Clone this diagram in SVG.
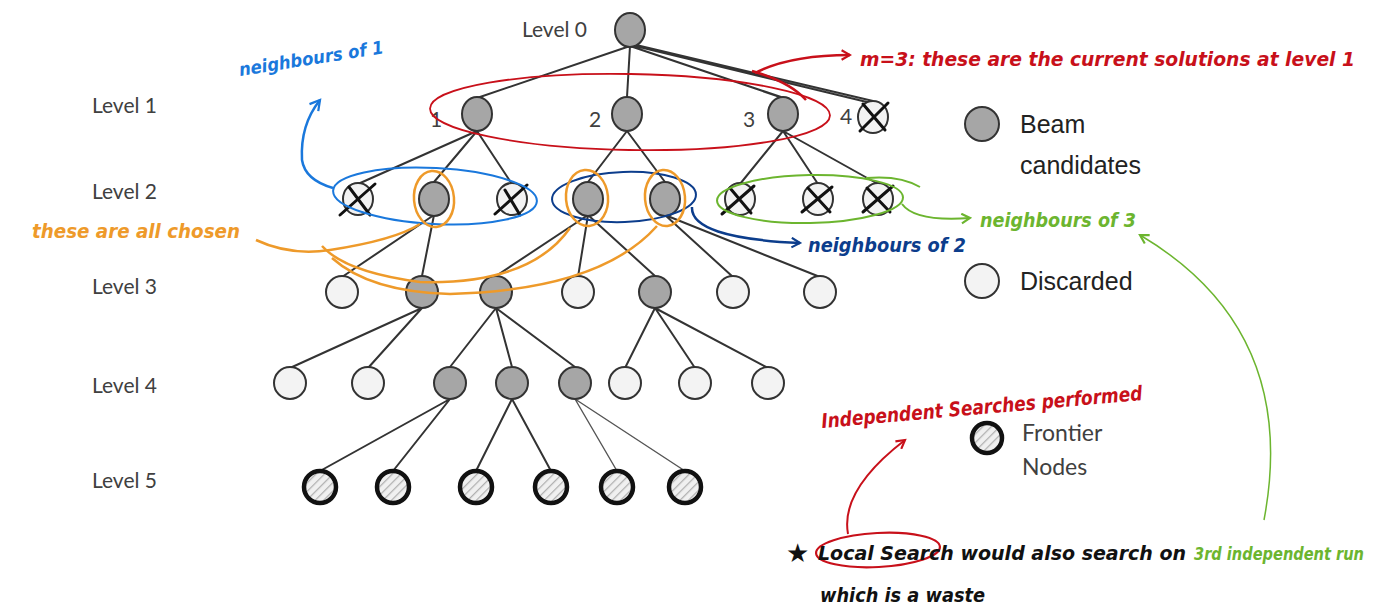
<svg xmlns="http://www.w3.org/2000/svg" width="1377" height="612" viewBox="0 0 1377 612">
<style>
.lvl{font-family:Lato,"Open Sans",sans-serif;font-size:21px;fill:#404040}
.num{font-family:Lato,"Open Sans",sans-serif;font-size:21px;fill:#404040}
.leg{font-family:"Liberation Sans",Arial,sans-serif;font-size:25px;fill:#222}
.leg2{font-family:Lato,"Open Sans",sans-serif;font-size:23px;fill:#404040}
.edge{stroke:#333;stroke-width:2;fill:none}
.beam{fill:#a6a6a6;stroke:#333;stroke-width:2}
.disc{fill:#f3f3f3;stroke:#333;stroke-width:2}
.front{fill:url(#hatch);stroke:#111;stroke-width:4.5}
.x{stroke:#111;stroke-width:3;stroke-linecap:round;fill:none}
.hw{font-family:"DejaVu Sans Condensed","DejaVu Sans",sans-serif;font-weight:bold;font-style:italic}
.red{fill:#c8101a}.blue{fill:#1a78dc}.dblue{fill:#0c3d8c}.green{fill:#6cb52f}.orange{fill:#ee9a2a}.black{fill:#111}
</style>
<defs>
<pattern id="hatch" patternUnits="userSpaceOnUse" width="6" height="6" patternTransform="rotate(45)">
<rect width="6" height="6" fill="#f0f0f0"/>
<line x1="0" y1="0" x2="0" y2="6" stroke="#b0b0b0" stroke-width="2.5"/>
</pattern>
<marker id="arR" viewBox="0 0 10 10" refX="8" refY="5" markerWidth="12" markerHeight="12" orient="auto" markerUnits="userSpaceOnUse">
<path d="M1 1 L8 5 L1 9" fill="none" stroke="#c8101a" stroke-width="1.8"/>
</marker>
<marker id="arB" viewBox="0 0 10 10" refX="8" refY="5" markerWidth="14" markerHeight="14" orient="auto" markerUnits="userSpaceOnUse">
<path d="M1 1 L8 5 L1 9" fill="none" stroke="#1a78dc" stroke-width="1.6"/>
</marker>
<marker id="arD" viewBox="0 0 10 10" refX="8" refY="5" markerWidth="12" markerHeight="12" orient="auto" markerUnits="userSpaceOnUse">
<path d="M1 1 L8 5 L1 9" fill="none" stroke="#0c3d8c" stroke-width="1.8"/>
</marker>
<marker id="arG" viewBox="0 0 10 10" refX="8" refY="5" markerWidth="12" markerHeight="12" orient="auto" markerUnits="userSpaceOnUse">
<path d="M1 1 L8 5 L1 9" fill="none" stroke="#6cb52f" stroke-width="1.8"/>
</marker>
</defs>
<rect width="1377" height="612" fill="#fff"/>

<g id="labels">
<text class="lvl" x="522" y="37">Level 0</text>
<text class="lvl" x="92" y="113">Level 1</text>
<text class="lvl" x="92" y="199">Level 2</text>
<text class="lvl" x="92" y="294">Level 3</text>
<text class="lvl" x="92" y="393">Level 4</text>
<text class="lvl" x="92" y="488">Level 5</text>
<text class="num" x="430" y="127">1</text>
<text class="num" x="589" y="127">2</text>
<text class="num" x="743" y="127">3</text>
<text class="num" x="840" y="124">4</text>
</g>

<g id="connectors">
<path class="edge" d="M630 46 L477 98 M630 46 L627 97 M630 46 L783 98 M632 44 L873 101 M633 47 L781 97 M631 45 L871 103"/>
<path class="edge" d="M477 131 L358 184 M477 131 L434 182 M477 131 L512 184 M627 131 L588 182 M627 131 L665 182 M783 131 L740 184 M783 131 L818 184 M783 131 L878 184"/>
<path class="edge" d="M434 215 L342 277 M434 215 L422 276 M588 215 L496 276 M588 215 L578 277 M588 215 L655 276 M665 215 L733 277 M665 215 L820 277"/>
<path class="edge" d="M422 308 L290 368 M422 308 L368 368 M496 308 L450 367 M496 308 L512 367 M496 308 L575 367 M655 308 L625 368 M655 308 L695 368 M655 308 L768 368"/>
<path class="edge" d="M450 399 L320 471 M450 399 L393 471 M512 399 L476 471 M512 399 L551 471"/>
<path class="edge" style="stroke-width:1.4;stroke:#555" d="M575 399 L617 471 M575 399 L685 471"/>
</g>

<g id="n0"><ellipse class="beam" cx="630" cy="30" rx="15" ry="17"/></g>
<g id="n1"><ellipse class="beam" cx="477" cy="114" rx="15" ry="17"/></g>
<g id="n2"><ellipse class="beam" cx="627" cy="114" rx="15" ry="17"/></g>
<g id="n3"><ellipse class="beam" cx="783" cy="114" rx="15" ry="17"/></g>
<g id="n4"><ellipse class="disc" cx="873" cy="117" rx="15" ry="16"/><path class="x" d="M860 131 L888 103 M863 104 L885 130"/></g>

<g id="n2a"><ellipse class="disc" cx="358" cy="199" rx="15" ry="16"/><path class="x" d="M340 215 L375 184 M349 187 L370 215"/></g>
<g id="n2b"><ellipse class="beam" cx="434" cy="199" rx="15" ry="17"/></g>
<g id="n2c"><ellipse class="disc" cx="512" cy="199" rx="15" ry="16"/><path class="x" d="M495 214 L527 185 M505 190 L520 215"/></g>
<g id="n2d"><ellipse class="beam" cx="588" cy="199" rx="15" ry="17"/></g>
<g id="n2e"><ellipse class="beam" cx="665" cy="199" rx="15" ry="17"/></g>
<g id="n2f"><ellipse class="disc" cx="740" cy="199" rx="15" ry="16"/><path class="x" d="M722 214 L754 186 M730 188 L751 213"/></g>
<g id="n2g"><ellipse class="disc" cx="818" cy="199" rx="15" ry="16"/><path class="x" d="M802 212 L832 187 M808 188 L830 212"/></g>
<g id="n2h"><ellipse class="disc" cx="878" cy="199" rx="15" ry="16"/><path class="x" d="M863 212 L893 186 M867 188 L890 212"/></g>

<g id="n3a"><ellipse class="disc" cx="342" cy="292" rx="16" ry="16"/></g>
<g id="n3b"><ellipse class="beam" cx="422" cy="292" rx="16" ry="16"/></g>
<g id="n3c"><ellipse class="beam" cx="496" cy="292" rx="16" ry="16"/></g>
<g id="n3d"><ellipse class="disc" cx="578" cy="292" rx="16" ry="16"/></g>
<g id="n3e"><ellipse class="beam" cx="655" cy="292" rx="16" ry="16"/></g>
<g id="n3f"><ellipse class="disc" cx="733" cy="292" rx="16" ry="16"/></g>
<g id="n3g"><ellipse class="disc" cx="820" cy="292" rx="16" ry="16"/></g>

<g id="n4a"><ellipse class="disc" cx="290" cy="383" rx="16" ry="16"/></g>
<g id="n4b"><ellipse class="disc" cx="368" cy="383" rx="16" ry="16"/></g>
<g id="n4c"><ellipse class="beam" cx="450" cy="383" rx="16" ry="16"/></g>
<g id="n4d"><ellipse class="beam" cx="512" cy="383" rx="16" ry="16"/></g>
<g id="n4e"><ellipse class="beam" cx="575" cy="383" rx="16" ry="16"/></g>
<g id="n4f"><ellipse class="disc" cx="625" cy="383" rx="16" ry="16"/></g>
<g id="n4g"><ellipse class="disc" cx="695" cy="383" rx="16" ry="16"/></g>
<g id="n4h"><ellipse class="disc" cx="768" cy="383" rx="16" ry="16"/></g>

<g id="n5a"><circle class="front" cx="320" cy="487" r="16"/></g>
<g id="n5b"><circle class="front" cx="393" cy="487" r="16"/></g>
<g id="n5c"><circle class="front" cx="476" cy="487" r="16"/></g>
<g id="n5d"><circle class="front" cx="551" cy="487" r="16"/></g>
<g id="n5e"><circle class="front" cx="617" cy="487" r="16"/></g>
<g id="n5f"><circle class="front" cx="685" cy="487" r="16"/></g>

<g id="legend-beam"><circle class="beam" cx="982" cy="124" r="17"/><text class="leg" x="1020" y="133">Beam</text><text class="leg" x="1020" y="174">candidates</text></g>
<g id="legend-disc"><circle class="disc" cx="982" cy="281" r="17"/><text class="leg" x="1020" y="290">Discarded</text></g>
<g id="legend-front"><circle class="front" cx="987" cy="438" r="15"/><text class="leg2" x="1022" y="441">Frontier</text><text class="leg2" x="1022" y="475">Nodes</text></g>

<g id="ann-red" fill="none" stroke="#c8101a">
<ellipse cx="630" cy="112" rx="200" ry="38" stroke-width="1.8" transform="rotate(1 630 112)"/>
<path d="M752 71 Q790 82 806 100" stroke-width="2.5"/>
<path d="M755 73 Q790 55 850 55" stroke-width="2.5" marker-end="url(#arR)"/>
<ellipse cx="878" cy="550" rx="62" ry="17" stroke-width="2.2" transform="rotate(-3 878 550)"/>
<path d="M848 534 Q840 490 905 440" stroke-width="2" marker-end="url(#arR)"/>
</g>
<text class="hw red" x="860" y="66" font-size="19" textLength="495" lengthAdjust="spacingAndGlyphs">m=3: these are the current solutions at level 1</text>
<text class="hw red" x="822" y="428" font-size="20" textLength="322" lengthAdjust="spacingAndGlyphs" transform="rotate(-5 822 428)">Independent Searches performed</text>

<g id="ann-blue" fill="none">
<ellipse cx="435" cy="196" rx="102" ry="28" stroke="#1a78dc" stroke-width="2" transform="rotate(3 435 196)"/>
<path d="M333 188 Q305 180 302 160 Q300 125 320 100" stroke="#1a78dc" stroke-width="2.5" marker-end="url(#arB)"/>
<ellipse cx="624" cy="197" rx="72" ry="25" stroke="#0c3d8c" stroke-width="2" transform="rotate(-2 624 197)"/>
<path d="M692 207 Q690 238 800 243" stroke="#0c3d8c" stroke-width="2.5" marker-end="url(#arD)"/>
</g>
<text class="hw blue" x="240" y="76" font-size="18" textLength="146" lengthAdjust="spacingAndGlyphs" transform="rotate(-9 240 76)">neighbours of 1</text>
<text class="hw dblue" x="808" y="252" font-size="20" textLength="158" lengthAdjust="spacingAndGlyphs">neighbours of 2</text>

<g id="ann-green" fill="none" stroke="#6cb52f" stroke-width="2">
<ellipse cx="810" cy="199" rx="93" ry="24" transform="rotate(-1 810 199)"/>
<path d="M866 178 Q900 175 920 187"/>
<path d="M902 204 Q915 222 970 218" marker-end="url(#arG)"/>
<path d="M1264 520 Q1300 330 1140 235" stroke-width="1.5" marker-end="url(#arG)"/>
</g>
<text class="hw green" x="980" y="227" font-size="20" textLength="156" lengthAdjust="spacingAndGlyphs">neighbours of 3</text>

<g id="ann-orange" fill="none" stroke="#ee9a2a" stroke-width="2.5">
<ellipse cx="434" cy="199" rx="20" ry="28" transform="rotate(-5 434 199)"/>
<ellipse cx="587" cy="198" rx="21" ry="28" transform="rotate(-5 587 198)"/>
<ellipse cx="665" cy="198" rx="20" ry="28" transform="rotate(-5 665 198)"/>
<path d="M256 240 Q290 256 330 250 Q395 240 420 224"/>
<path d="M322 246 Q345 272 420 282 Q530 285 570 228"/>
<path d="M332 258 Q370 292 450 294 Q600 290 657 226"/>
</g>
<text class="hw orange" x="32" y="238" font-size="20" textLength="208" lengthAdjust="spacingAndGlyphs">these are all chosen</text>

<g id="ann-bottom">
<text class="black" x="786" y="562" font-family="DejaVu Sans,sans-serif" font-size="26">★</text>
<text class="hw black" x="818" y="560" font-size="19" textLength="368" lengthAdjust="spacingAndGlyphs">Local Search would also search on</text>
<text class="hw green" x="1194" y="560" font-size="17" textLength="170" lengthAdjust="spacingAndGlyphs">3rd independent run</text>
<text class="hw black" x="820" y="602" font-size="19" textLength="165" lengthAdjust="spacingAndGlyphs">which is a waste</text>
</g>
</svg>
